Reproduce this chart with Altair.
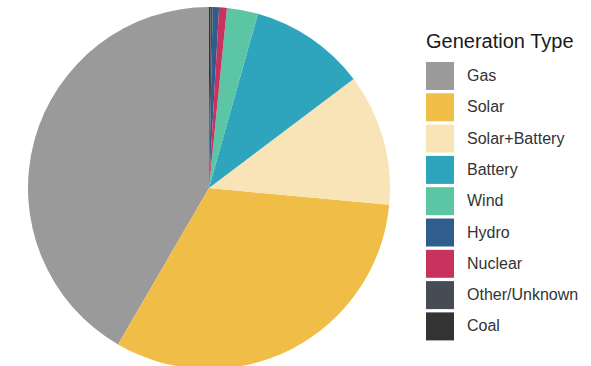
import altair as alt
import pandas as pd

types = ["Gas", "Solar", "Solar+Battery", "Battery", "Wind", "Hydro", "Nuclear", "Other/Unknown", "Coal"]
shares = [41.6, 31.9, 11.75, 10.36, 2.78, 0.56, 0.69, 0.19, 0.14]
colors = ["#9a9a9a", "#f0bd46", "#f9e4b8", "#2fa4bd", "#5bc5a4", "#2f5e8e", "#c8325e", "#464c56", "#333333"]
draw_order = [9, 8, 7, 6, 5, 3, 4, 2, 1]

df = pd.DataFrame({"type": types, "share": shares, "ord": draw_order})

chart = alt.Chart(df).mark_arc(radius=181, stroke=None).encode(
    theta=alt.Theta("share:Q", stack=True),
    order=alt.Order("ord:Q", sort="ascending"),
    x=alt.value(209),
    y=alt.value(188),
    color=alt.Color(
        "type:N",
        scale=alt.Scale(domain=types, range=colors),
        sort=types,
        legend=alt.Legend(
            title="Generation Type",
            orient="none",
            legendX=426,
            legendY=32,
            titleFontSize=20,
            titleFontWeight="normal",
            titleFont="Liberation Sans",
            titleColor="#1a1a1a",
            titlePadding=10,
            labelFont="Liberation Sans",
            labelFontSize=16,
            labelColor="#333333",
            labelOffset=13,
            symbolType="square",
            symbolSize=784,
            symbolStrokeWidth=0,
            rowPadding=3.3,
        ),
    ),
).properties(
    width=591,
    height=366,
    autosize=alt.AutoSizeParams(type="none"),
    padding=0,
).configure_view(stroke=None)

chart.save("out.html", embed_options={"renderer": "svg", "actions": False})
